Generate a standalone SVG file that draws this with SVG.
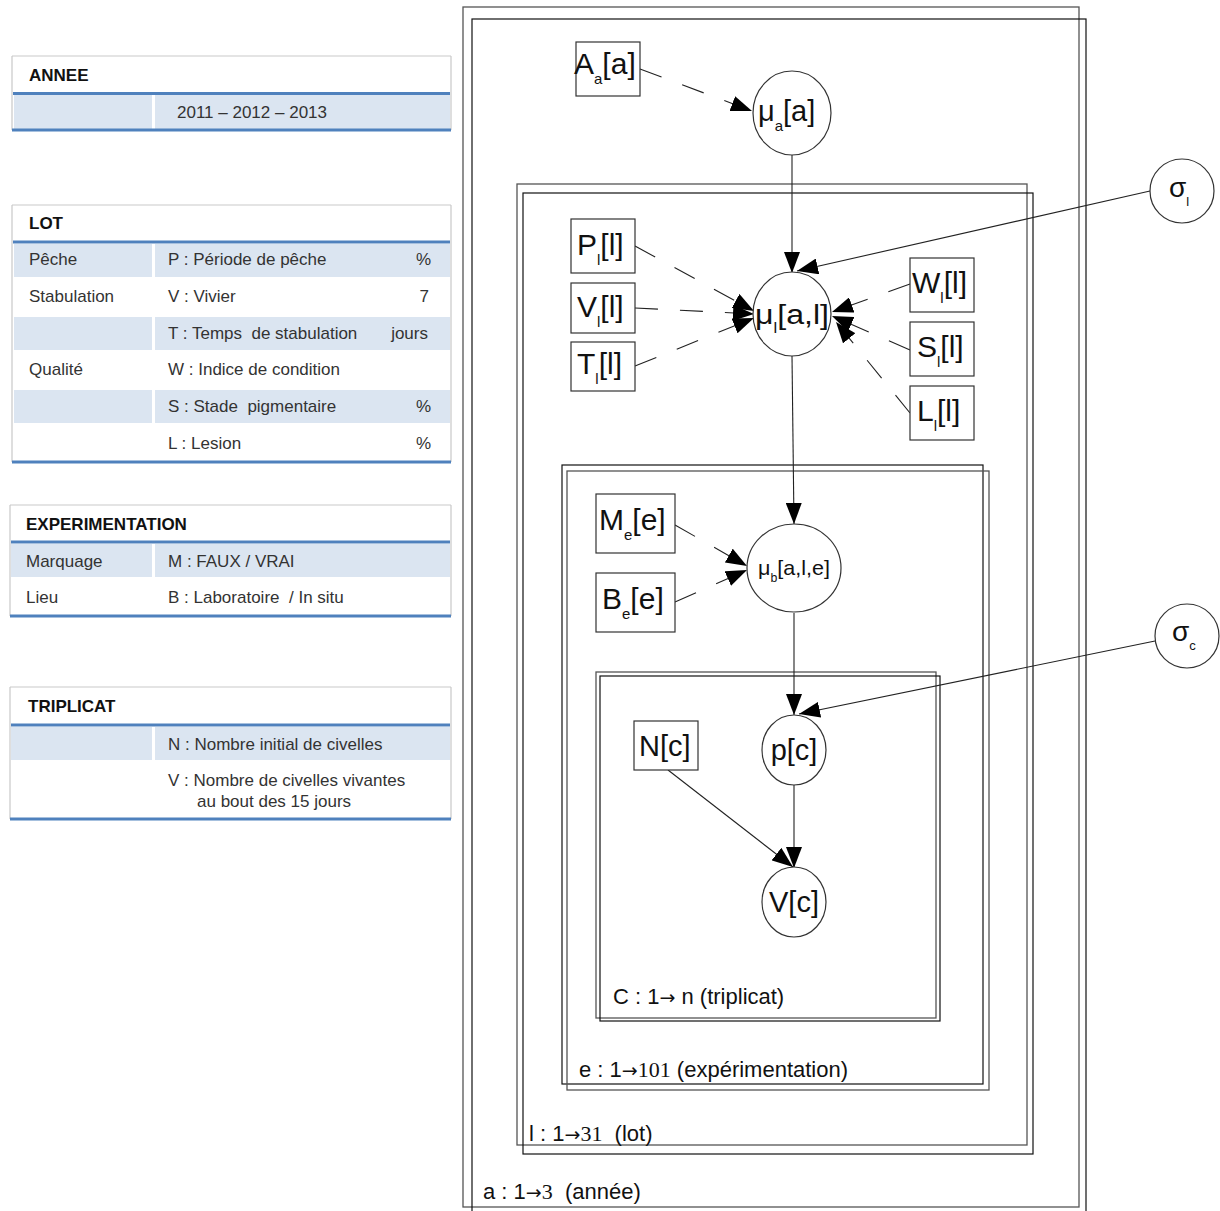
<svg xmlns="http://www.w3.org/2000/svg" width="1220" height="1211" viewBox="0 0 1220 1211">
<style>
.bg{fill:#fff}
.tborder{stroke:#c9c9c9;stroke-width:1.2;fill:none}
.blue{stroke:#4f81bd;stroke-width:3}
.shade{fill:#dbe5f1}
.tt{font-family:"Liberation Sans",Arial,sans-serif;font-size:17px;fill:#333}
.th{font-family:"Liberation Sans",Arial,sans-serif;font-size:17px;font-weight:bold;fill:#111}
.pa{fill:none;stroke:#555;stroke-width:1.3}
.pb{fill:none;stroke:#111;stroke-width:1.2}
.lbl{font-family:"Liberation Sans",Arial,sans-serif;font-size:22px;fill:#111}
.ser{font-family:"Liberation Serif","Times New Roman",serif}
.arw{font-family:"DejaVu Sans",sans-serif;font-size:19px}
.box{fill:#fff;stroke:#333;stroke-width:1.2}
.circ{fill:#fff;stroke:#333;stroke-width:1.2}
.nt{font-family:"Liberation Sans",Arial,sans-serif;fill:#111}
.edge{stroke:#222;stroke-width:1.1;fill:none;marker-end:url(#arr)}
.dash{stroke-dasharray:23 22}
</style>
<defs>
<marker id="arr" markerUnits="userSpaceOnUse" markerWidth="22" markerHeight="16" refX="21" refY="8" orient="auto">
<path d="M0,0 L21,8 L0,16 z" fill="#000"/>
</marker>
</defs>
<rect class="bg" x="0" y="0" width="1220" height="1211"/>

<!-- Tables -->
<g id="table-annee">
<path class="tborder" d="M12,56 H451 M12,56 V130 M451,56 V130"/>
<text class="th" x="29" y="81">ANNEE</text>
<rect class="shade" x="14" y="95" width="138" height="34"/>
<rect class="shade" x="155" y="95" width="295" height="34"/>
<line class="blue" x1="13" y1="93.5" x2="450" y2="93.5"/>
<line class="blue" x1="12" y1="130" x2="451" y2="130"/>
<text class="tt" x="177" y="118">2011 – 2012 – 2013</text>
</g>

<g id="table-lot">
<path class="tborder" d="M12,205 H451 M12,205 V462 M451,205 V462"/>
<text class="th" x="29" y="229">LOT</text>
<rect class="shade" x="14" y="244" width="138" height="33"/>
<rect class="shade" x="155" y="244" width="295" height="33"/>
<rect class="shade" x="14" y="317" width="138" height="33"/>
<rect class="shade" x="155" y="317" width="295" height="33"/>
<rect class="shade" x="14" y="390" width="138" height="33"/>
<rect class="shade" x="155" y="390" width="295" height="33"/>
<line class="blue" x1="13" y1="242" x2="450" y2="242"/>
<line class="blue" x1="12" y1="462" x2="451" y2="462"/>
<text class="tt" x="29" y="265">Pêche</text>
<text class="tt" x="168" y="265">P : Période de pêche</text>
<text class="tt" x="431" y="265" text-anchor="end">%</text>
<text class="tt" x="29" y="302">Stabulation</text>
<text class="tt" x="168" y="302">V : Vivier</text>
<text class="tt" x="429" y="302" text-anchor="end">7</text>
<text class="tt" x="168" y="339" xml:space="preserve">T : Temps  de stabulation</text>
<text class="tt" x="428" y="339" text-anchor="end">jours</text>
<text class="tt" x="29" y="375">Qualité</text>
<text class="tt" x="168" y="375">W : Indice de condition</text>
<text class="tt" x="168" y="412" xml:space="preserve">S : Stade  pigmentaire</text>
<text class="tt" x="431" y="412" text-anchor="end">%</text>
<text class="tt" x="168" y="449">L : Lesion</text>
<text class="tt" x="431" y="449" text-anchor="end">%</text>
</g>

<g id="table-experimentation">
<path class="tborder" d="M10,505 H451 M10,505 V616 M451,505 V616"/>
<text class="th" x="26" y="530">EXPERIMENTATION</text>
<rect class="shade" x="11" y="544" width="141" height="33"/>
<rect class="shade" x="155" y="544" width="295" height="33"/>
<line class="blue" x1="11" y1="542" x2="450" y2="542"/>
<line class="blue" x1="10" y1="616" x2="451" y2="616"/>
<text class="tt" x="26" y="567">Marquage</text>
<text class="tt" x="168" y="567">M : FAUX / VRAI</text>
<text class="tt" x="26" y="603">Lieu</text>
<text class="tt" x="168" y="603" xml:space="preserve">B : Laboratoire  / In situ</text>
</g>

<g id="table-triplicat">
<path class="tborder" d="M10,687 H451 M10,687 V819 M451,687 V819"/>
<text class="th" x="28" y="712">TRIPLICAT</text>
<rect class="shade" x="11" y="727" width="141" height="33"/>
<rect class="shade" x="155" y="727" width="295" height="33"/>
<line class="blue" x1="11" y1="725" x2="450" y2="725"/>
<line class="blue" x1="10" y1="819" x2="451" y2="819"/>
<text class="tt" x="168" y="750">N : Nombre initial de civelles</text>
<text class="tt" x="168" y="786">V : Nombre de civelles vivantes</text>
<text class="tt" x="197" y="807">au bout des 15 jours</text>
</g>

<!-- Plates -->
<g id="plate-a">
<rect class="pa" x="463" y="7" width="616" height="1200"/>
<rect class="pb" x="472" y="19" width="614" height="1200"/>
<text class="lbl" x="483" y="1199" xml:space="preserve">a : 1<tspan class="arw">→</tspan><tspan class="ser">3</tspan>  (année)</text>
</g>
<g id="plate-l">
<rect class="pa" x="517" y="184" width="510" height="961"/>
<rect class="pb" x="523" y="193" width="510" height="961"/>
<text class="lbl" x="529" y="1141" xml:space="preserve">l : 1<tspan class="arw">→</tspan><tspan class="ser">31</tspan>  (lot)</text>
</g>
<g id="plate-e">
<rect class="pb" x="562" y="465" width="421" height="619"/>
<rect class="pa" x="567" y="471" width="422" height="619"/>
<text class="lbl" x="579" y="1077">e : 1<tspan class="arw">→</tspan><tspan class="ser">101</tspan> (expérimentation)</text>
</g>
<g id="plate-c">
<rect class="pa" x="596" y="672" width="340" height="346"/>
<rect class="pb" x="600" y="676" width="340" height="345"/>
<text class="lbl" x="613" y="1004">C : 1<tspan class="arw">→</tspan> n (triplicat)</text>
</g>

<!-- Connectors -->
<g id="connectors">
<path class="edge dash" d="M640,69 L752,111"/>
<path class="edge" d="M792,155 L792,273"/>
<path class="edge" d="M1150,191 L797,271"/>
<path class="edge dash" d="M635,246 L754,311"/>
<path class="edge dash" d="M635,308 L754,314"/>
<path class="edge dash" d="M635,366 L754,318"/>
<path class="edge dash" d="M910,284 L832,312"/>
<path class="edge dash" d="M910,350 L832,316"/>
<path class="edge dash" d="M910,413 L836,322"/>
<path class="edge" d="M792,356 L794,524"/>
<path class="edge dash" d="M675,525 L747,566"/>
<path class="edge dash" d="M675,602 L747,570"/>
<path class="edge" d="M794,613 L794,715"/>
<path class="edge" d="M1155,641 L799,714"/>
<path class="edge" d="M794,784 L794,868"/>
<path class="edge" d="M668,770 L793,867"/>
</g>

<!-- Nodes -->
<g id="node-Aa">
<rect class="box" x="576" y="42" width="64" height="54"/>
<text class="nt" x="574" y="74" font-size="30">A<tspan font-size="15" dy="10">a</tspan><tspan dy="-10">[a]</tspan></text>
</g>
<g id="node-mua">
<ellipse class="circ" cx="792" cy="113" rx="39" ry="42"/>
<text class="nt" x="758" y="121" font-size="29">μ<tspan font-size="15" dy="10">a</tspan><tspan dy="-10">[a]</tspan></text>
</g>
<g id="node-sigmal">
<circle class="circ" cx="1182" cy="191" r="32"/>
<text class="nt" x="1169" y="197" font-size="28" font-family="Liberation Serif">σ<tspan font-family="Liberation Sans" font-size="13" dy="9">l</tspan></text>
</g>
<g id="node-Pl">
<rect class="box" x="571" y="219" width="64" height="54"/>
<text class="nt" x="577" y="255" font-size="30">P<tspan font-size="15" dy="10">l</tspan><tspan dy="-10">[l]</tspan></text>
</g>
<g id="node-Vl">
<rect class="box" x="571" y="283" width="64" height="50"/>
<text class="nt" x="577" y="317" font-size="30">V<tspan font-size="15" dy="10">l</tspan><tspan dy="-10">[l]</tspan></text>
</g>
<g id="node-Tl">
<rect class="box" x="571" y="342" width="64" height="49"/>
<text class="nt" x="577" y="374" font-size="30">T<tspan font-size="15" dy="10">l</tspan><tspan dy="-10">[l]</tspan></text>
</g>
<g id="node-mul">
<ellipse class="circ" cx="792" cy="314" rx="39" ry="42"/>
<text class="nt" x="755" y="324" font-size="27" textLength="74" lengthAdjust="spacingAndGlyphs">μ<tspan font-size="14" dy="9">l</tspan><tspan dy="-9">[a,l]</tspan></text>
</g>
<g id="node-Wl">
<rect class="box" x="910" y="258" width="64" height="54"/>
<text class="nt" x="912" y="293" font-size="30">W<tspan font-size="15" dy="10">l</tspan><tspan dy="-10">[l]</tspan></text>
</g>
<g id="node-Sl">
<rect class="box" x="910" y="322" width="64" height="54"/>
<text class="nt" x="917" y="357" font-size="30">S<tspan font-size="15" dy="10">l</tspan><tspan dy="-10">[l]</tspan></text>
</g>
<g id="node-Ll">
<rect class="box" x="910" y="386" width="64" height="54"/>
<text class="nt" x="917" y="421" font-size="30">L<tspan font-size="15" dy="10">l</tspan><tspan dy="-10">[l]</tspan></text>
</g>
<g id="node-Me">
<rect class="box" x="596" y="494" width="79" height="59"/>
<text class="nt" x="599" y="530" font-size="30">M<tspan font-size="15" dy="10">e</tspan><tspan dy="-10">[e]</tspan></text>
</g>
<g id="node-Be">
<rect class="box" x="596" y="573" width="79" height="59"/>
<text class="nt" x="602" y="609" font-size="30">B<tspan font-size="15" dy="10">e</tspan><tspan dy="-10">[e]</tspan></text>
</g>
<g id="node-mub">
<ellipse class="circ" cx="794" cy="568" rx="47" ry="44"/>
<text class="nt" x="758" y="575" font-size="21" textLength="72" lengthAdjust="spacingAndGlyphs">μ<tspan font-size="12" dy="7">b</tspan><tspan dy="-7">[a,l,e]</tspan></text>
</g>
<g id="node-sigmac">
<circle class="circ" cx="1187" cy="636" r="32"/>
<text class="nt" x="1172" y="641" font-size="28" font-family="Liberation Serif">σ<tspan font-family="Liberation Sans" font-size="13" dy="9">c</tspan></text>
</g>
<g id="node-Nc">
<rect class="box" x="634" y="721" width="64" height="49"/>
<text class="nt" x="639" y="756" font-size="29">N[c]</text>
</g>
<g id="node-pc">
<ellipse class="circ" cx="794" cy="750" rx="32" ry="35"/>
<text class="nt" x="794" y="760" font-size="29" text-anchor="middle">p[c]</text>
</g>
<g id="node-Vc">
<ellipse class="circ" cx="794" cy="902" rx="32" ry="35"/>
<text class="nt" x="794" y="912" font-size="29" text-anchor="middle">V[c]</text>
</g>
</svg>
